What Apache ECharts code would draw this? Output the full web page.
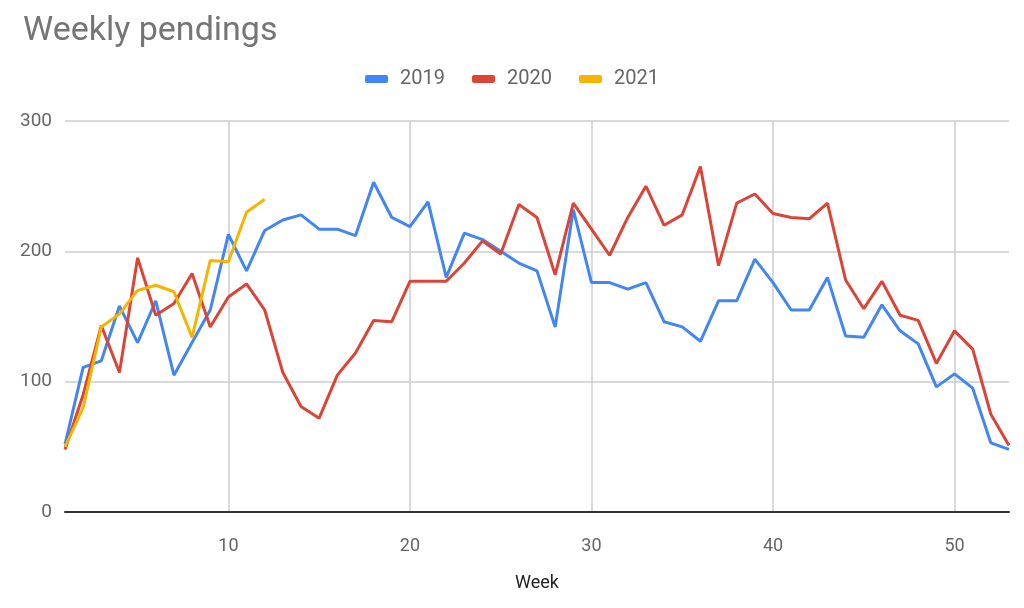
<!DOCTYPE html>
<html>
<head>
<meta charset="utf-8">
<script src="https://cdn.jsdelivr.net/npm/echarts@6/dist/echarts.min.js"></script>
<style>html,body{margin:0;padding:0;background:#fff}#c{width:1024px;height:608px}</style>
</head>
<body>
<div id="c"></div>
<script>
var weeks = [];
for (var i = 1; i <= 53; i++) weeks.push(String(i));
var seriesNames = ['2019', '2020', '2021'];
var y2019 = [52,111,116,158,130,162,105,130,155,213,185,216,224,228,217,217,212,253,226,219,238,180,214,209,200,191,185,142,232,176,176,171,176,146,142,131,162,162,194,176,155,155,180,135,134,159,139,129,96,106,95,53,48];
var y2020 = [48,90,143,107,195,151,160,183,142,165,175,155,107,81,72,105,122,147,146,177,177,177,191,208,198,236,226,182,237,217,197,226,250,220,228,265,189,237,244,229,226,225,237,178,156,177,151,147,114,139,125,75,51];
var y2021 = [50,80,142,152,170,174,169,134,193,192,230,240];
var yTicks = [0,100,200,300];
var colors = ['#4285F4', '#DB4437', '#F4B400'];

var chart = echarts.init(document.getElementById('c'));
var showTick = function (idx, val) { return Number(val) % 10 === 0; };
chart.setOption({
  animation: false,
  title: {
    text: 'Weekly pendings', left: 18, top: 9,
    textStyle: { fontFamily: 'Roboto', fontSize: 34, fontWeight: 'normal', color: '#757575' }
  },
  legend: {
    data: seriesNames, top: 64, left: 'center',
    icon: 'roundRect', itemWidth: 23, itemHeight: 8, itemGap: 27,
    textStyle: { fontFamily: 'Roboto', fontSize: 20, color: '#666', padding: [0, 0, 0, 7] }
  },
  grid: { left: 65, right: 15, top: 121, bottom: 96, containLabel: false },
  xAxis: {
    type: 'category', data: weeks, boundaryGap: false,
    name: 'Week', nameLocation: 'middle', nameGap: 62,
    nameTextStyle: { fontFamily: 'Roboto', fontSize: 18, color: '#222' },
    axisLine: { lineStyle: { color: '#333', width: 2 } },
    axisTick: { show: false },
    axisLabel: { interval: showTick, margin: 25, fontFamily: 'Roboto', fontSize: 18, color: '#666' },
    splitLine: { show: true, interval: showTick, lineStyle: { color: '#ccc', width: 1.5 } }
  },
  yAxis: {
    type: 'value', min: 0, max: 300, interval: 100,
    axisLine: { show: false }, axisTick: { show: false },
    axisLabel: { margin: 13, fontFamily: 'Roboto', fontSize: 19, color: '#666' },
    splitLine: { lineStyle: { color: '#ccc', width: 1.5 } }
  },
  series: [
    { name: seriesNames[0], type: 'line', data: y2019, color: colors[0], symbol: 'none', lineStyle: { width: 3 } },
    { name: seriesNames[1], type: 'line', data: y2020, color: colors[1], symbol: 'none', lineStyle: { width: 3 } },
    { name: seriesNames[2], type: 'line', data: y2021, color: colors[2], symbol: 'none', lineStyle: { width: 3 } }
  ]
});
</script>
</body>
</html>
